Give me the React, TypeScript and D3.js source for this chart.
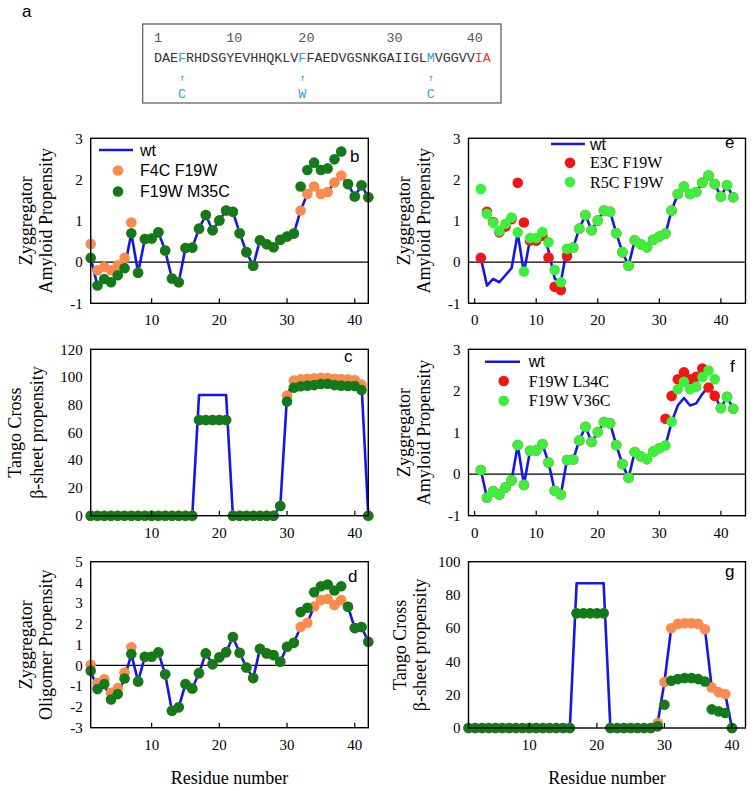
import React from "react";
import * as d3 from "d3";

// ---------- Data ----------
const sequence = "DAEFRHDSGYEVHHQKLVFFAEDVGSNKGAIIGLMVGGVVIA";
const seqNumberLabels = ["1", "10", "20", "30", "40"];
const seqNumberCols = [0, 9, 18, 29, 39];
const cyanCols = [3, 18, 34];
const redCols = [40, 41];
const mutationLetters = ["C", "W", "C"];

// Zyggregator amyloid propensity (Abeta42)
const wtAmyloid = [0.10, -0.57, -0.41, -0.49, -0.32, -0.15, 0.70, -0.26, 0.56, 0.57, 0.72, 0.28, -0.40, -0.49, 0.34, 0.35, 0.81, 1.14, 0.77, 1.01, 1.25, 1.22, 0.70, 0.24, -0.09, 0.53, 0.43, 0.36, 0.54, 0.62, 0.69, 1.25, 1.65, 1.83, 1.65, 1.70, 1.93, 2.10, 1.89, 1.59, 1.86, 1.57];
const f4cF19wAmyloid = [0.44, -0.20, -0.12, -0.20, -0.08, 0.10, 0.96, -0.26, 0.56, 0.57, 0.72, 0.28, -0.40, -0.49, 0.34, 0.35, 0.81, 1.14, 0.77, 1.01, 1.25, 1.22, 0.70, 0.24, -0.09, 0.53, 0.43, 0.36, 0.54, 0.62, 0.69, 1.25, 1.65, 1.83, 1.65, 1.70, 1.93, 2.10, 1.89, 1.59, 1.86, 1.57];
const f19wM35cAmyloid = [0.10, -0.57, -0.41, -0.49, -0.32, -0.15, 0.70, -0.26, 0.56, 0.57, 0.72, 0.28, -0.40, -0.49, 0.34, 0.35, 0.81, 1.14, 0.77, 1.01, 1.25, 1.22, 0.70, 0.24, -0.09, 0.53, 0.43, 0.36, 0.54, 0.62, 0.69, 1.83, 2.23, 2.41, 2.23, 2.27, 2.49, 2.68, 1.89, 1.59, 1.86, 1.57];
const e3cF19wAmyloid = [0.10, 1.22, 0.97, 0.72, 0.86, 1.04, 1.92, 0.96, 0.52, 0.52, 0.64, 0.11, -0.60, -0.68, 0.14, 0.35, 0.81, 1.14, 0.77, 1.01, 1.25, 1.22, 0.70, 0.24, -0.09, 0.53, 0.43, 0.36, 0.54, 0.62, 0.69, 1.25, 1.65, 1.83, 1.65, 1.70, 1.93, 2.10, 1.89, 1.59, 1.86, 1.57];
const r5cF19wAmyloid = [1.77, 1.17, 0.95, 0.75, 0.93, 1.08, 0.72, -0.23, 0.58, 0.58, 0.73, 0.48, -0.19, -0.49, 0.32, 0.35, 0.81, 1.14, 0.77, 1.01, 1.25, 1.22, 0.70, 0.24, -0.09, 0.53, 0.43, 0.36, 0.54, 0.62, 0.69, 1.25, 1.65, 1.83, 1.65, 1.70, 1.93, 2.10, 1.89, 1.59, 1.86, 1.57];
const f19wL34cAmyloid = [0.10, -0.57, -0.41, -0.49, -0.32, -0.15, 0.70, -0.26, 0.56, 0.57, 0.72, 0.28, -0.40, -0.49, 0.34, 0.35, 0.81, 1.14, 0.77, 1.01, 1.25, 1.22, 0.70, 0.24, -0.09, 0.53, 0.43, 0.36, 0.54, 0.62, 1.33, 1.88, 2.28, 2.45, 2.28, 2.34, 2.54, 2.08, 1.88, 1.59, 1.86, 1.57];
const f19wV36cAmyloid = [0.10, -0.57, -0.41, -0.49, -0.32, -0.15, 0.70, -0.26, 0.56, 0.57, 0.72, 0.28, -0.40, -0.49, 0.34, 0.35, 0.81, 1.14, 0.77, 1.01, 1.25, 1.22, 0.70, 0.24, -0.09, 0.53, 0.43, 0.36, 0.54, 0.62, 0.69, 1.26, 2.04, 2.22, 2.04, 2.10, 2.33, 2.49, 2.28, 1.58, 1.85, 1.57];

// Tango cross beta-sheet propensity (Abeta42)
const wtTango42 = [0, 0, 0, 0, 0, 0, 0, 0, 0, 0, 0, 0, 0, 0, 0, 0, 87, 87, 87, 87, 87, 0, 0, 0, 0, 0, 0, 0, 7, 86.6, 97.4, 98.3, 98.8, 99.0, 99.5, 99.3, 98.8, 98.5, 98.3, 97.8, 94.5, 0];
const f4cF19wTango42 = [0, 0, 0, 0, 0, 0, 0, 0, 0, 0, 0, 0, 0, 0, 0, 0, 69, 69, 69, 69, 69, 0, 0, 0, 0, 0, 0, 0, 7, 86.6, 97.4, 98.3, 98.8, 99.0, 99.5, 99.3, 98.8, 98.5, 98.3, 97.8, 94.5, 0];
const f19wM35cTango42 = [0, 0, 0, 0, 0, 0, 0, 0, 0, 0, 0, 0, 0, 0, 0, 0, 69, 69, 69, 69, 69, 0, 0, 0, 0, 0, 0, 0, 7, 82.3, 92.3, 93.3, 93.8, 94.2, 95.0, 95.2, 94.2, 93.8, 93.5, 93.5, 90.6, 0];

// Zyggregator oligomer propensity
const wtOligomer = [-0.26, -1.14, -0.90, -1.64, -1.38, -0.63, 0.55, -0.77, 0.42, 0.42, 0.63, -0.43, -2.18, -2.02, -0.90, -1.11, -0.37, 0.58, 0.06, 0.39, 0.64, 1.37, 0.61, -0.10, -0.61, 0.80, 0.58, 0.50, 0.18, 0.90, 1.09, 1.85, 2.06, 2.84, 3.15, 3.20, 2.91, 3.15, 2.83, 1.80, 1.85, 1.14];
const f4cF19wOligomer = [0.03, -0.85, -0.67, -1.32, -1.09, -0.34, 0.88, -0.77, 0.42, 0.42, 0.63, -0.43, -2.18, -2.02, -0.90, -1.11, -0.37, 0.58, 0.06, 0.39, 0.64, 1.37, 0.61, -0.10, -0.61, 0.80, 0.58, 0.50, 0.18, 0.90, 1.09, 1.85, 2.06, 2.84, 3.15, 3.20, 2.91, 3.15, 2.83, 1.80, 1.85, 1.14];
const f19wM35cOligomer = [-0.26, -1.14, -0.90, -1.64, -1.38, -0.63, 0.55, -0.77, 0.42, 0.42, 0.63, -0.43, -2.18, -2.02, -0.90, -1.11, -0.37, 0.58, 0.06, 0.39, 0.64, 1.37, 0.61, -0.10, -0.61, 0.80, 0.58, 0.50, 0.18, 0.90, 1.09, 2.57, 2.78, 3.53, 3.82, 3.90, 3.61, 3.82, 2.83, 1.80, 1.85, 1.14];

// Tango cross beta-sheet propensity (Abeta40)
const wtTango40 = [0, 0, 0, 0, 0, 0, 0, 0, 0, 0, 0, 0, 0, 0, 0, 0, 87, 87, 87, 87, 87, 0, 0, 0, 0, 0, 0, 0, 3, 27.6, 60.0, 62.6, 63.0, 63.0, 62.6, 59.4, 24.4, 21.6, 20.4, 0];
const f4cF19wTango40 = [0, 0, 0, 0, 0, 0, 0, 0, 0, 0, 0, 0, 0, 0, 0, 0, 69, 69, 69, 69, 69, 0, 0, 0, 0, 0, 0, 0, 3, 27.6, 60.0, 62.6, 63.0, 63.0, 62.6, 59.4, 24.4, 21.6, 20.4, 0];
const f19wM35cTango40 = [0, 0, 0, 0, 0, 0, 0, 0, 0, 0, 0, 0, 0, 0, 0, 0, 69, 69, 69, 69, 69, 0, 0, 0, 0, 0, 0, 0, 1, 14, 28.4, 29.4, 30.0, 30.0, 29.4, 28.0, 11.2, 10.0, 9.0, 0];

const ticksResidue = [10, 20, 30, 40];
const ticksResidue0 = [0, 10, 20, 30, 40];
const ticksAmyloid = [-1, 0, 1, 2, 3];
const ticksTango42 = [0, 20, 40, 60, 80, 100, 120];
const ticksOligomer = [-3, -2, -1, 0, 1, 2, 3, 4, 5];
const ticksTango40 = [0, 20, 40, 60, 80, 100];

// ---------- Styles ----------
const BLUE = "#1616e8";
const ORANGE = "#f98b4e";
const DKGREEN = "#127a18";
const LTGREEN = "#3cef3c";
const RED = "#f01616";
const SERIF = "'Liberation Serif', 'Times New Roman', serif";
const SANS = "'Liberation Sans', Arial, sans-serif";
const MONO = "'Liberation Mono', 'Courier New', monospace";
const R = 5.3;

type Series = { values: number[]; color: string };
type LegendItem = { kind: "line" | "dot"; color: string; label: string; font: string };
type Legend = { lineX1: number; lineX2: number; dotX: number; textX: number; ys: number[]; items: LegendItem[] };

type PanelProps = {
  left: number; right: number; top: number; bottom: number;
  xDomain: [number, number]; yDomain: [number, number];
  xTicks: number[]; yTicks: number[];
  wt: number[]; points: Series[];
  zeroLine?: boolean;
  letter: string; letterX: number; letterY: number;
  yLabels: string[]; yLabelXs: number[];
  legend?: Legend;
  xTitle?: boolean;
};

function Panel(p: PanelProps) {
  const x = d3.scaleLinear().domain(p.xDomain).range([p.left, p.right]);
  const y = d3.scaleLinear().domain(p.yDomain).range([p.bottom, p.top]);
  const line = d3.line<number>().x((_, i) => x(i + 1)).y((v) => y(v));
  const cy = (p.top + p.bottom) / 2;
  return (
    <g>
      {p.zeroLine && (
        <line x1={p.left} x2={p.right} y1={y(0)} y2={y(0)} stroke="#000" strokeWidth={1.2} />
      )}
      <path d={line(p.wt) || ""} fill="none" stroke={BLUE} strokeWidth={2.6} strokeLinejoin="round" />
      {p.points.map((s, si) => (
        <g key={si}>
          {s.values.map((v, i) => (
            <circle key={i} cx={x(i + 1)} cy={y(v)} r={R} fill={s.color} />
          ))}
        </g>
      ))}
      <rect x={p.left} y={p.top} width={p.right - p.left} height={p.bottom - p.top} fill="none" stroke="#000" strokeWidth={1.4} />
      {p.xTicks.map((t) => (
        <g key={t}>
          <line x1={x(t)} x2={x(t)} y1={p.bottom} y2={p.bottom - 5} stroke="#000" strokeWidth={1.2} />
          <text x={x(t)} y={p.bottom + 22} textAnchor="middle" fontFamily={SERIF} fontSize={15}>{t}</text>
        </g>
      ))}
      {p.yTicks.map((t) => (
        <text key={t} x={p.left - 8} y={y(t)} dy="0.35em" textAnchor="end" fontFamily={SERIF} fontSize={15}>{t}</text>
      ))}
      {p.yLabels.map((lab, i) => (
        <text key={i} transform={`translate(${p.yLabelXs[i]},${cy}) rotate(-90)`} textAnchor="middle" dy="0.32em" fontFamily={SERIF} fontSize={18}>{lab}</text>
      ))}
      <text x={p.letterX} y={p.letterY} fontFamily={SANS} fontSize={17}>{p.letter}</text>
      {p.legend && p.legend.items.map((it, i) => (
        <g key={i}>
          {it.kind === "line" ? (
            <line x1={p.legend!.lineX1} x2={p.legend!.lineX2} y1={p.legend!.ys[i]} y2={p.legend!.ys[i]} stroke={it.color} strokeWidth={2.6} />
          ) : (
            <circle cx={p.legend!.dotX} cy={p.legend!.ys[i]} r={R} fill={it.color} />
          )}
          <text x={p.legend!.textX + (it.kind === "line" ? 0 : 0)} y={p.legend!.ys[i]} dy="0.36em" fontFamily={it.font} fontSize={16}>{it.label}</text>
        </g>
      ))}
      {p.xTitle && (
        <text x={(p.left + p.right) / 2} y={p.bottom + 56} textAnchor="middle" fontFamily={SERIF} fontSize={18}>Residue number</text>
      )}
    </g>
  );
}

function SequenceBox() {
  const x0 = 154;
  const cw = 8.02;
  const colorOf = (i: number) => (cyanCols.includes(i) ? "#2aa7e0" : redCols.includes(i) ? "#ee3a3a" : "#333");
  return (
    <g>
      <text x={22} y={17} fontFamily={SANS} fontSize={17}>a</text>
      <rect x={142.7} y={24} width={358.3} height={79} fill="none" stroke="#555" strokeWidth={1.2} />
      {seqNumberLabels.map((n, k) => (
        <text key={n} x={x0 + seqNumberCols[k] * cw} y={41.5} fontFamily={MONO} fontSize={13.4} fill="#555">{n}</text>
      ))}
      {sequence.split("").map((c, i) => (
        <text key={i} x={x0 + i * cw} y={61.5} fontFamily={MONO} fontSize={13.4} fill={colorOf(i)}>{c}</text>
      ))}
      {cyanCols.map((col, k) => (
        <g key={col}>
          <text x={x0 + col * cw + cw / 2} y={81} textAnchor="middle" fontFamily="'DejaVu Sans Mono', monospace" fontSize={10} fill="#2aa7e0">↑</text>
          <text x={x0 + col * cw + cw / 2} y={98} textAnchor="middle" fontFamily={MONO} fontSize={13.4} fill="#2aa7e0">{mutationLetters[k]}</text>
        </g>
      ))}
    </g>
  );
}

export default function App() {
  const LL = 90.7, LR = 368.3, RL = 468.5, RR = 745.5;
  return (
    <svg width={754} height={791} style={{ position: "absolute", left: 0, top: 0, background: "#fff" }}>
      <rect width={754} height={791} fill="#fff" />
      <SequenceBox />
      <Panel
        left={LL} right={LR} top={138.3} bottom={303.3}
        xDomain={[1, 42]} yDomain={[-1, 3]} xTicks={ticksResidue} yTicks={ticksAmyloid}
        wt={wtAmyloid}
        points={[{ values: f4cF19wAmyloid, color: ORANGE }, { values: f19wM35cAmyloid, color: DKGREEN }]}
        zeroLine letter="b" letterX={350} letterY={162}
        yLabels={["Zyggregator", "Amyloid Propensity"]} yLabelXs={[26.7, 46.7]}
        legend={{
          lineX1: 99, lineX2: 133, dotX: 118, textX: 140, ys: [150, 170.5, 191.5],
          items: [
            { kind: "line", color: BLUE, label: "wt", font: SANS },
            { kind: "dot", color: ORANGE, label: "F4C F19W", font: SANS },
            { kind: "dot", color: DKGREEN, label: "F19W M35C", font: SANS },
          ],
        }}
      />
      <Panel
        left={RL} right={RR} top={138.3} bottom={303.3}
        xDomain={[-1, 44]} yDomain={[-1, 3]} xTicks={ticksResidue0} yTicks={ticksAmyloid}
        wt={wtAmyloid}
        points={[{ values: e3cF19wAmyloid, color: RED }, { values: r5cF19wAmyloid, color: LTGREEN }]}
        zeroLine letter="e" letterX={725} letterY={148}
        yLabels={["Zyggregator", "Amyloid Propensity"]} yLabelXs={[404, 424]}
        legend={{
          lineX1: 551, lineX2: 585, dotX: 570, textX: 590, ys: [144, 162.7, 182],
          items: [
            { kind: "line", color: BLUE, label: "wt", font: SANS },
            { kind: "dot", color: RED, label: "E3C F19W", font: SERIF },
            { kind: "dot", color: LTGREEN, label: "R5C F19W", font: SERIF },
          ],
        }}
      />
      <Panel
        left={LL} right={LR} top={349.3} bottom={515.7}
        xDomain={[1, 42]} yDomain={[0, 120]} xTicks={ticksResidue} yTicks={ticksTango42}
        wt={wtTango42}
        points={[{ values: f4cF19wTango42, color: ORANGE }, { values: f19wM35cTango42, color: DKGREEN }]}
        letter="c" letterX={344} letterY={362}
        yLabels={["Tango Cross", "β-sheet propensity"]} yLabelXs={[15.5, 37]}
      />
      <Panel
        left={RL} right={RR} top={349.3} bottom={515.7}
        xDomain={[-1, 44]} yDomain={[-1, 3]} xTicks={ticksResidue0} yTicks={ticksAmyloid}
        wt={wtAmyloid}
        points={[{ values: f19wL34cAmyloid, color: RED }, { values: f19wV36cAmyloid, color: LTGREEN }]}
        zeroLine letter="f" letterX={730} letterY={372}
        yLabels={["Zyggregator", "Amyloid Propensity"]} yLabelXs={[404, 424]}
        legend={{
          lineX1: 485, lineX2: 520, dotX: 503.7, textX: 528.7, ys: [361.7, 381, 400.7],
          items: [
            { kind: "line", color: BLUE, label: "wt", font: SANS },
            { kind: "dot", color: RED, label: "F19W L34C", font: SERIF },
            { kind: "dot", color: LTGREEN, label: "F19W V36C", font: SERIF },
          ],
        }}
      />
      <Panel
        left={LL} right={LR} top={561.7} bottom={727.7}
        xDomain={[1, 42]} yDomain={[-3, 5]} xTicks={ticksResidue} yTicks={ticksOligomer}
        wt={wtOligomer}
        points={[{ values: f4cF19wOligomer, color: ORANGE }, { values: f19wM35cOligomer, color: DKGREEN }]}
        zeroLine letter="d" letterX={348} letterY={582}
        yLabels={["Zyggregator", "Oligomer Propensity"]} yLabelXs={[26.7, 46.7]}
        xTitle
      />
      <Panel
        left={RL} right={RR} top={561.7} bottom={728}
        xDomain={[1, 42]} yDomain={[0, 100]} xTicks={ticksResidue} yTicks={ticksTango40}
        wt={wtTango40}
        points={[{ values: f4cF19wTango40, color: ORANGE }, { values: f19wM35cTango40, color: DKGREEN }]}
        letter="g" letterX={725} letterY={577}
        yLabels={["Tango Cross", "β-sheet propensity"]} yLabelXs={[400.3, 420.3]}
        xTitle
      />
    </svg>
  );
}
